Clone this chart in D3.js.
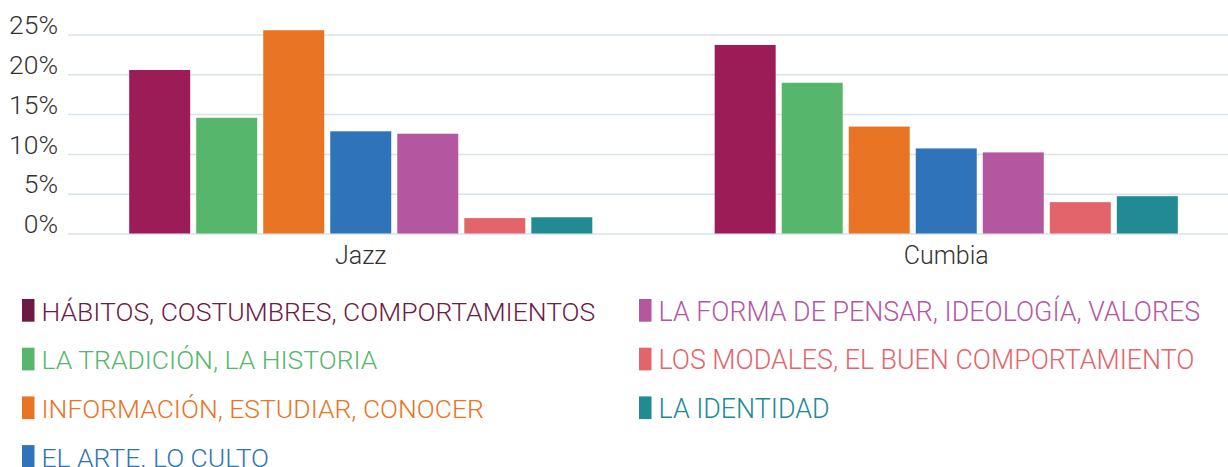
<!DOCTYPE html>
<html>
<head>
<meta charset="utf-8">
<script src="https://cdn.jsdelivr.net/npm/d3@7"></script>
<style>
  body { margin: 0; background: #fff; }
  svg { display: block; }
  text { font-family: Roboto, "Noto Sans", sans-serif; }
</style>
</head>
<body>
<div id="chart"></div>
<script>
// data
var genres = ["Jazz", "Cumbia"];
var categories = [
  "HÁBITOS, COSTUMBRES, COMPORTAMIENTOS",
  "LA TRADICIÓN, LA HISTORIA",
  "INFORMACIÓN, ESTUDIAR, CONOCER",
  "EL ARTE. LO CULTO",
  "LA FORMA DE PENSAR, IDEOLOGÍA, VALORES",
  "LOS MODALES, EL BUEN COMPORTAMIENTO",
  "LA IDENTIDAD"
];
var jazzValues = [20.6, 14.6, 25.6, 12.9, 12.6, 2.0, 2.1];
var cumbiaValues = [23.75, 19.0, 13.5, 10.75, 10.25, 4.0, 4.75];
var yTicks = [0, 5, 10, 15, 20, 25];

var colors = ["#9c1c58", "#56b66b", "#e97424", "#2f74ba", "#b457a1", "#e3646b", "#228a93"];
var legendColors = ["#6d1a47", "#56b66b", "#e97424", "#2f74ba", "#b457a1", "#e3646b", "#228a93"];

var width = 1228, height = 467;

var svg = d3.select("#chart").append("svg")
  .attr("width", width)
  .attr("height", height);

var y = d3.scaleLinear()
  .domain([0, 25])
  .range([234, 35]);

// outer band per genre, inner band per category
var x0 = d3.scaleBand()
  .domain(genres)
  .range([68, 1239])
  .paddingInner(0.209)
  .paddingOuter(0.1045);

var x1 = d3.scaleBand()
  .domain(d3.range(categories.length))
  .range([0, x0.bandwidth()])
  .paddingInner(0.09);

//gridlines
svg.append("g")
  .selectAll("line")
  .data(yTicks)
  .enter()
  .append("line")
  .attr("x1", 68)
  .attr("x2", width)
  .attr("y1", function (d) { return y(d); })
  .attr("y2", function (d) { return y(d); })
  .attr("stroke", "#d6e3ea")
  .attr("stroke-width", 1.5);

//y axis labels
var yAxis = d3.axisLeft(y)
  .tickValues(yTicks)
  .tickSize(0)
  .tickPadding(0)
  .tickFormat(function (d) { return d + "%"; });

var gy = svg.append("g")
  .attr("transform", "translate(58,0)")
  .call(yAxis);
gy.select(".domain").remove();
gy.selectAll("text")
  .attr("dy", "-0.05em")
  .attr("fill", "#333")
  .attr("font-size", 26.5)
  .attr("font-weight", 300);

var series = [jazzValues, cumbiaValues];

var groups = svg.selectAll(".genre")
  .data(genres)
  .enter()
  .append("g")
  .attr("class", "genre")
  .attr("transform", function (g) { return "translate(" + x0(g) + ",0)"; });

groups.selectAll("rect")
  .data(function (g, gi) {
    return series[gi].map(function (v, i) { return { i: i, value: v }; });
  })
  .enter()
  .append("rect")
  .attr("x", function (d) { return x1(d.i); })
  .attr("width", x1.bandwidth())
  .attr("y", function (d) { return y(d.value); })
  .attr("height", function (d) { return y(0) - 0.5 - y(d.value); })
  .attr("fill", function (d) { return colors[d.i]; });

//x axis labels
var xAxis = d3.axisBottom(x0)
  .tickSize(0)
  .tickPadding(0);

var gx = svg.append("g")
  .attr("transform", "translate(0,246)")
  .call(xAxis);
gx.select(".domain").remove();
gx.selectAll("text")
  .attr("fill", "#333")
  .attr("font-size", 25)
  .attr("font-weight", 300);

//legend, two columns
var legend = svg.append("g").attr("class", "legend");

var item = legend.selectAll("g")
  .data(categories)
  .enter()
  .append("g")
  .attr("transform", function (d, i) {
    var col = i < 4 ? 0 : 1;
    var row = i < 4 ? i : i - 4;
    return "translate(" + (col ? 639 : 22) + "," + (299 + row * 48.7) + ")";
  });

item.append("rect")
  .attr("width", 12.5)
  .attr("height", 22.7)
  .attr("fill", function (d, i) { return legendColors[i]; });

item.append("text")
  .attr("x", 19.5)
  .attr("y", 21.5)
  .attr("font-size", function (d, i) { return i < 4 ? 26.5 : 26.8; })
  .attr("font-weight", 300)
  .attr("fill", function (d, i) { return legendColors[i]; })
  .text(function (d) { return d; });
</script>
</body>
</html>
